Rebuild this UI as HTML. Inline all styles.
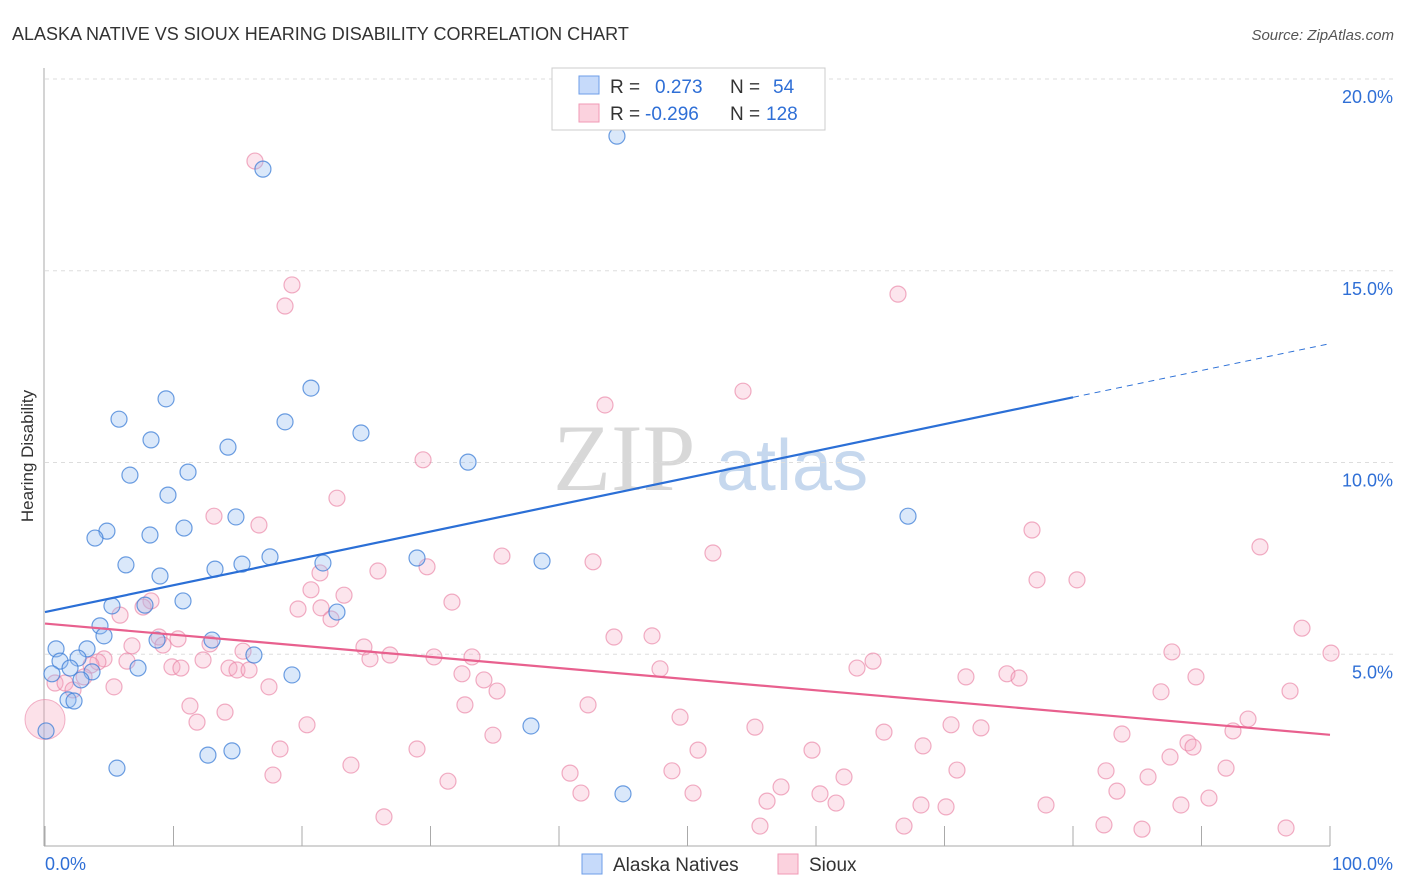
<!DOCTYPE html>
<html><head><meta charset="utf-8"><style>
body{margin:0;background:#fff;font-family:"Liberation Sans",sans-serif;}
svg{display:block}
</style></head><body>
<svg id="c" width="1406" height="892">
<text x="12" y="40" font-size="18" fill="#333">ALASKA NATIVE VS SIOUX HEARING DISABILITY CORRELATION CHART</text>
<text x="1394" y="40" font-size="15" fill="#555" font-style="italic" text-anchor="end">Source: ZipAtlas.com</text>
<text transform="translate(33,456) rotate(-90)" font-size="17" fill="#333" text-anchor="middle">Hearing Disability</text>
<g><text x="553" y="490" font-size="95" font-family="Liberation Serif,serif" fill="#d8d8d8">ZIP</text><text x="716" y="490" font-size="72" fill="#c6d8ee">atlas</text></g>
<g id="grid"></g><g id="marks"></g><g id="lines"></g>
<g>
<rect x="552" y="68" width="273" height="62" fill="#fff" stroke="#ccc"/>
<rect x="579" y="76" width="20" height="18" fill="#c6dafa" stroke="#6d9ee8"/>
<rect x="579" y="104" width="20" height="18" fill="#fbd2de" stroke="#f09ab6"/>
<text x="610" y="93" font-size="19" fill="#333">R = <tspan fill="#2f6fd6" x="655">0.273</tspan><tspan x="730" fill="#333">N = </tspan><tspan x="773" fill="#2f6fd6">54</tspan></text>
<text x="610" y="120" font-size="19" fill="#333">R = <tspan fill="#2f6fd6" x="645">-0.296</tspan><tspan x="730" fill="#333">N = </tspan><tspan x="766" fill="#2f6fd6">128</tspan></text>
</g>
<g>
<rect x="582" y="854" width="20" height="20" fill="#c6dafa" stroke="#6d9ee8"/>
<text x="613" y="871" font-size="19" fill="#333">Alaska Natives</text>
<rect x="778" y="854" width="20" height="20" fill="#fbd2de" stroke="#f09ab6"/>
<text x="809" y="871" font-size="19" fill="#333">Sioux</text>
</g>
</svg>
<script>
const yTicks=[5,10,15,20];
const xTickLabels=["0.0%","100.0%"];
const bluePx=[[617,136],[263,169],[311,388],[166,399],[119,419],[285,422],[151,440],[361,433],[228,447],[468,462],[188,472],[130,475],[168,495],[236,517],[107,531],[95,538],[150,535],[184,528],[908,516],[270,557],[417,558],[542,561],[126,565],[242,564],[215,569],[323,563],[160,576],[183,601],[112,606],[145,605],[337,612],[100,626],[104,636],[157,640],[212,640],[56,649],[87,649],[254,655],[60,661],[78,658],[70,668],[52,674],[92,672],[138,668],[81,680],[292,675],[68,700],[74,701],[46,731],[531,726],[117,768],[208,755],[232,751],[623,794]];
const pinkPx=[[255,161],[292,285],[285,306],[898,294],[743,391],[605,405],[423,460],[337,498],[214,516],[259,525],[1032,530],[1260,547],[713,553],[502,556],[593,562],[378,571],[427,567],[320,573],[1037,580],[1077,580],[311,590],[344,595],[452,602],[151,601],[143,607],[298,609],[321,608],[120,615],[331,619],[1302,628],[614,637],[652,636],[159,637],[178,639],[210,644],[132,646],[163,645],[364,647],[243,651],[1172,652],[1331,653],[390,655],[434,657],[472,657],[104,659],[370,659],[98,662],[127,661],[203,660],[873,661],[91,665],[172,667],[181,668],[229,668],[237,670],[249,670],[660,669],[857,668],[462,674],[84,677],[1007,674],[966,677],[1019,678],[1196,677],[484,680],[55,683],[65,683],[114,687],[269,687],[497,691],[73,690],[1161,692],[1290,691],[588,705],[465,705],[190,706],[225,712],[680,717],[197,722],[307,725],[951,725],[981,728],[755,727],[1248,719],[1233,731],[884,732],[493,735],[1122,734],[923,746],[698,750],[280,749],[417,749],[812,750],[1188,743],[1193,747],[1170,757],[351,765],[1106,771],[1226,768],[957,770],[672,771],[570,773],[273,775],[448,781],[1148,777],[844,777],[781,787],[581,793],[693,793],[1117,791],[820,794],[767,801],[1209,798],[836,803],[1046,805],[921,805],[946,807],[1181,805],[384,817],[760,826],[904,826],[1104,825],[1142,829],[1286,828]];
// convert picture reading to data values (% units)
const blueX=bluePx.map(p=>+((p[0]-45)/12.85).toFixed(2));
const blueY=bluePx.map(p=>+((846-p[1])/38.35).toFixed(2));
const pinkX=pinkPx.map(p=>+((p[0]-45)/12.85).toFixed(2));
const pinkY=pinkPx.map(p=>+((846-p[1])/38.35).toFixed(2));
const blueTrend=[[0,6.1],[80,11.7],[100,13.1]];
const pinkTrend=[[0,5.8],[100,2.9]];
const NS="http://www.w3.org/2000/svg";
const X=v=>45+v*12.85, Y=v=>846-v*38.35;
function mk(tag,at,parent){const e=document.createElementNS(NS,tag);for(const k in at)e.setAttribute(k,at[k]);parent.appendChild(e);return e;}
const g=document.getElementById('grid');
yTicks.forEach(t=>{
 const l=mk('line',{x1:45,x2:1394,y1:Y(t),y2:Y(t),stroke:'#ddd','stroke-dasharray':'4,4'},g);
 
 
 const tx=mk('text',{x:1393,y:Y(t)+24,'font-size':18,fill:'#2f6fd6','text-anchor':'end'},g);tx.textContent=t.toFixed(1)+'%';
 
 
});
const ax=mk('line',{x1:44,x2:44,y1:68,y2:846,stroke:'#aaa'},g);


const bx=mk('line',{x1:44,x2:1330,y1:846,y2:846,stroke:'#aaa'},g);


for(let i=0;i<=10;i++){const t=mk('line',{x1:X(i*10),x2:X(i*10),y1:826,y2:846,stroke:'#aaa'},g);
 
 }
[[0,'start'],[100,'end']].forEach((d,i)=>{const t=mk('text',{x:i?1393:45,y:870,'font-size':18,fill:'#2f6fd6','text-anchor':d[1]},g);t.textContent=xTickLabels[i];
 
 });
const m=document.getElementById('marks');
const big=mk('circle',{cx:X(0),cy:Y(3.3),r:20,fill:'rgba(244,154,182,0.3)',stroke:'rgba(234,130,165,0.6)'},m);


pinkX.forEach((x,i)=>{const c=mk('circle',{cx:X(x),cy:Y(pinkY[i]),r:8,fill:'rgba(246,170,196,0.3)',stroke:'rgba(234,130,165,0.65)','stroke-width':1.2},m);
 
 });
blueX.forEach((x,i)=>{const c=mk('circle',{cx:X(x),cy:Y(blueY[i]),r:8,fill:'rgba(150,190,240,0.35)',stroke:'rgba(60,125,215,0.75)','stroke-width':1.2},m);
 
 });
const L=document.getElementById('lines');
const b1=mk('line',{x1:X(blueTrend[0][0]),y1:Y(blueTrend[0][1]),x2:X(blueTrend[1][0]),y2:Y(blueTrend[1][1]),stroke:'#2b6fd6','stroke-width':2.2},L);


const b2=mk('line',{x1:X(blueTrend[1][0]),y1:Y(blueTrend[1][1]),x2:X(blueTrend[2][0]),y2:Y(blueTrend[2][1]),stroke:'#2b6fd6','stroke-width':1,'stroke-dasharray':'6,5'},L);


const p1=mk('line',{x1:X(pinkTrend[0][0]),y1:Y(pinkTrend[0][1]),x2:X(pinkTrend[1][0]),y2:Y(pinkTrend[1][1]),stroke:'#e8608e','stroke-width':2.2},L);


</script>
</body></html>
